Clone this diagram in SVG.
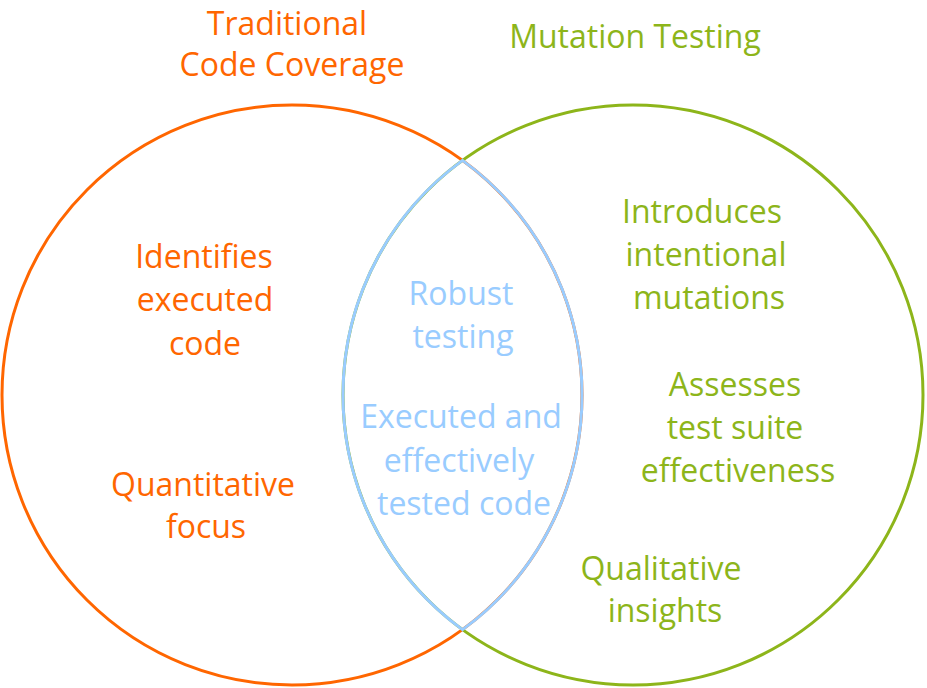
<svg xmlns="http://www.w3.org/2000/svg" width="927" height="688" viewBox="0 0 927 688">
<style>
text{font-family:"Open Sans","Noto Sans","Liberation Sans",sans-serif;font-size:32px;text-anchor:middle}
.o{fill:#FF6600}.g{fill:#8DB51A}.b{fill:#99CCFF}
.c{fill:none;stroke-width:3}
</style>
<g id="coverage-circle"><circle class="c" cx="292" cy="395" r="290" stroke="#FF6600"/></g>
<g id="mutation-circle"><circle class="c" cx="633" cy="395" r="290" stroke="#8DB51A"/></g>
<g id="overlap"><path class="c" stroke="#99CCFF" d="M462.5,160.4 A290,290 0 0,0 462.5,629.6 A290,290 0 0,0 462.5,160.4 Z"/></g>
<g id="coverage-labels">
<text class="o" x="287" y="35">Traditional</text>
<text class="o" x="292" y="76">Code Coverage</text>
<text class="o" x="204" y="268">Identifies</text>
<text class="o" x="205" y="311">executed</text>
<text class="o" x="205" y="355">code</text>
<text class="o" x="203" y="496">Quantitative</text>
<text class="o" x="206" y="538">focus</text>
</g>
<g id="mutation-labels">
<text class="g" x="635" y="48">Mutation Testing</text>
<text class="g" x="702" y="223">Introduces</text>
<text class="g" x="706" y="266">intentional</text>
<text class="g" x="709" y="309">mutations</text>
<text class="g" x="735" y="396">Assesses</text>
<text class="g" x="735" y="439">test suite</text>
<text class="g" x="738" y="482">effectiveness</text>
<text class="g" x="661" y="580">Qualitative</text>
<text class="g" x="665" y="622">insights</text>
</g>
<g id="overlap-labels">
<text class="b" x="461" y="305">Robust</text>
<text class="b" x="463" y="348">testing</text>
<text class="b" x="461" y="428">Executed and</text>
<text class="b" x="459" y="472">effectively</text>
<text class="b" x="464" y="515">tested code</text>
</g>
</svg>
